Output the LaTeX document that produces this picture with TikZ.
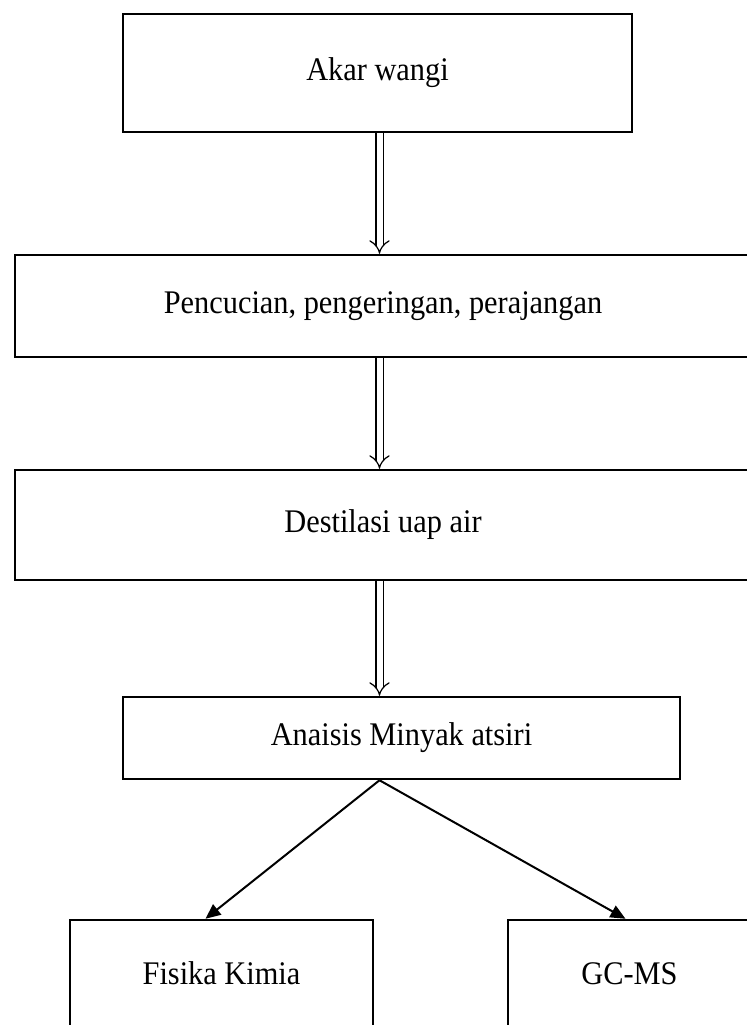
\documentclass[tikz,border=0pt]{standalone}
\usepackage{fontspec}
\setmainfont[FakeStretch=0.92]{Liberation Serif}
\usetikzlibrary{positioning,arrows.meta}

\begin{document}
\begin{tikzpicture}[
    x=0.5pt, y=-0.5pt,
    stepbox/.style={rectangle, draw=black, line width=1.25pt, inner sep=0pt, font=\fontsize{16.5}{20}\selectfont},
    dblarrow/.style={draw=black, line width=0.6pt, double, double distance=3pt, -{Implies}},
    splitarrow/.style={draw=black, line width=1pt, -{Triangle[length=7.5pt,width=6.5pt]}},
]
\useasboundingbox (0,0) rectangle (747,1025);
\clip (0,0) rectangle (747,1025);
\node[stepbox, minimum width=254.5pt, minimum height=59pt]  (akar)      at (377.5,73)  {Akar wangi};
\node[stepbox, minimum width=368pt, minimum height=51pt]    (cuci)      at (383,306)   {Pencucian, pengeringan, perajangan};
\node[stepbox, minimum width=368pt, minimum height=55pt]    (destilasi) at (383,525)   {Destilasi uap air};
\node[stepbox, minimum width=278.5pt, minimum height=41pt]  (analisis)  at (401.5,738) {Anaisis Minyak atsiri};
\node[stepbox, minimum width=151.5pt, minimum height=53.5pt] (fisika)   at (221.5,973.5) {Fisika Kimia};
\node[stepbox, minimum width=121.5pt, minimum height=53.5pt] (gcms)     at (629.5,973.5) {GC-MS};
\coordinate (split) at ([xshift=-11pt]analisis.south);
\draw[dblarrow] ([xshift=1pt]akar.south) -- ([xshift=1pt]akar.south |- cuci.north);
\draw[dblarrow] ([xshift=1pt]cuci.south -| akar) -- ([xshift=1pt]destilasi.north -| akar);
\draw[dblarrow] ([xshift=1pt]destilasi.south -| akar) -- ([xshift=1pt]analisis.north -| akar);
\draw[splitarrow] (split) -- ([xshift=-8pt]fisika.north);
\draw[splitarrow] (split) -- ([xshift=-2pt]gcms.north);
\end{tikzpicture}
\end{document}
